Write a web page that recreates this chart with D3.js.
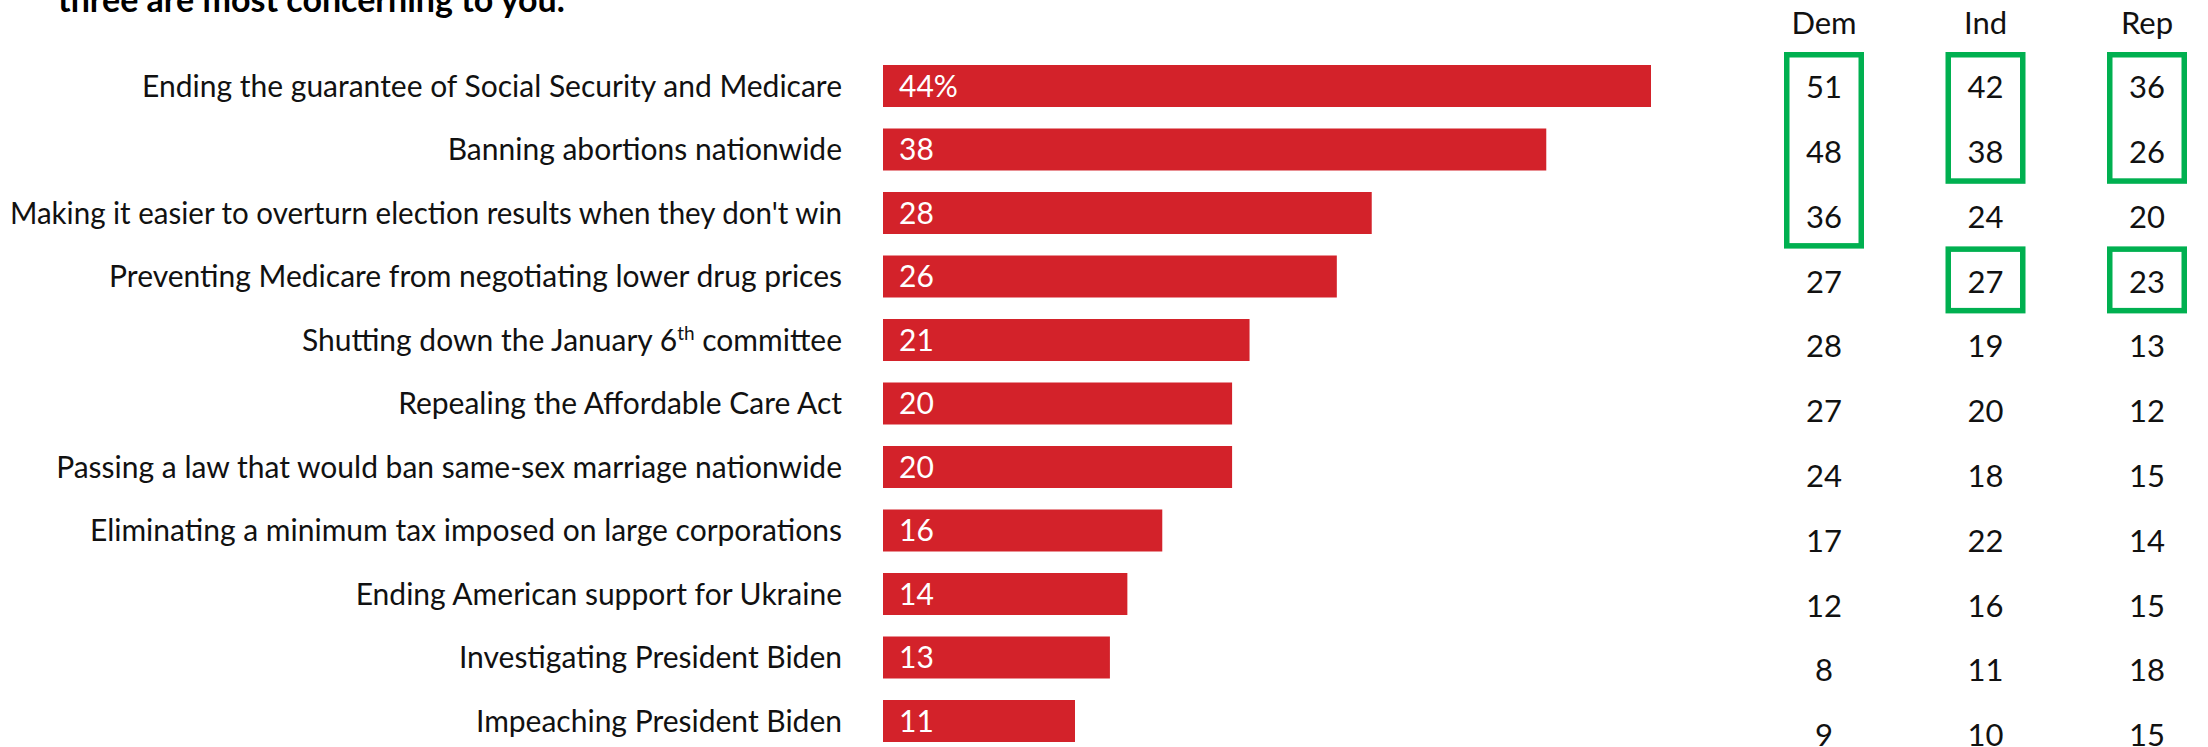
<!DOCTYPE html>
<html>
<head>
<meta charset="utf-8">
<script src="https://cdn.jsdelivr.net/npm/d3@7"></script>
<style>
  body { margin: 0; background: #fff; }
  text { font-family: Lato, "Open Sans", sans-serif; }
</style>
</head>
<body>
<script>
const TITLE = "three are most concerning to you.";

const ITEMS = [
  "Ending the guarantee of Social Security and Medicare",
  "Banning abortions nationwide",
  "Making it easier to overturn election results when they don't win",
  "Preventing Medicare from negotiating lower drug prices",
  "Shutting down the January 6th committee",
  "Repealing the Affordable Care Act",
  "Passing a law that would ban same-sex marriage nationwide",
  "Eliminating a minimum tax imposed on large corporations",
  "Ending American support for Ukraine",
  "Investigating President Biden",
  "Impeaching President Biden"
];

const TOTAL = [44, 38, 28, 26, 21, 20, 20, 16, 14, 13, 11];

const PARTIES = ["Dem", "Ind", "Rep"];
const DEM = [51, 48, 36, 27, 28, 27, 24, 17, 12, 8, 9];
const IND = [42, 38, 24, 27, 19, 20, 18, 22, 16, 11, 10];
const REP = [36, 26, 20, 23, 13, 12, 15, 14, 15, 18, 15];

// green boxes: party, first row, last row
const HIGHLIGHTS = [
  ["Dem", 0, 2],
  ["Ind", 0, 1],
  ["Ind", 3, 3],
  ["Rep", 0, 1],
  ["Rep", 3, 3]
];

const RED = "#d3222a";
const GREEN = "#00b050";

document.addEventListener('DOMContentLoaded', () => {
  drawChart();
});

function drawChart() {
  let width = 2208;
  let height = 747;
  let fontSize = 30;

  let svg = d3.select('body').append('svg')
              .attr('width', width)
              .attr('height', height);

  svg.append('text')
     .attr('x', 58)
     .attr('y', 12)
     .style('font-size', '34px')
     .style('font-weight', 'bold')
     .text(TITLE);

  let x = d3.scaleLinear()
            .domain([0, 44])
            .range([883, 1651]);

  let y = d3.scalePoint()
            .domain(ITEMS)
            .range([86, 721]);

  let barHeight = 42;
  let labelRight = 842;

  // left labels
  let labels = svg.append('g').selectAll('text')
                  .data(ITEMS)
                  .join('text')
                  .attr('x', labelRight)
                  .attr('y', d => y(d))
                  .attr('dy', '0.36em')
                  .attr('text-anchor', 'end')
                  .style('font-size', fontSize + 'px')
                  .style('fill', '#111');

  labels.each(function(d) {
    let t = d3.select(this);
    let m = d.match(/^(.*\d)(th)(.*)$/);
    if (m) {
      t.append('tspan').text(m[1]);
      t.append('tspan')
       .attr('dy', -11)
       .style('font-size', '19px')
       .text(m[2]);
      t.append('tspan').attr('dy', 11).text(m[3]);
    } else {
      t.text(d);
    }
    // keep long labels inside the left edge
    let w = this.getComputedTextLength();
    if (w > labelRight - 10) {
      t.attr('textLength', labelRight - 10).attr('lengthAdjust', 'spacingAndGlyphs');
    }
  });

  // bars
  svg.append('g').selectAll('rect')
     .data(ITEMS)
     .join('rect')
     .attr('x', x(0))
     .attr('y', d => y(d) - barHeight / 2)
     .attr('width', (d, i) => x(TOTAL[i]) - x(0))
     .attr('height', barHeight)
     .style('fill', RED);

  svg.append('g').selectAll('text')
     .data(ITEMS)
     .join('text')
     .attr('x', x(0) + 16)
     .attr('y', d => y(d))
     .attr('dy', '0.36em')
     .style('font-size', fontSize + 'px')
     .style('fill', '#fff')
     .text((d, i) => i === 0 ? TOTAL[i] + '%' : TOTAL[i]);

  // party table
  let col = d3.scalePoint()
              .domain(PARTIES)
              .range([1824, 2147]);

  let row = d3.scalePoint()
              .domain(d3.range(ITEMS.length))
              .range([87, 735]);

  let columns = { Dem: DEM, Ind: IND, Rep: REP };

  svg.append('g').selectAll('text')
     .data(PARTIES)
     .join('text')
     .attr('x', d => col(d))
     .attr('y', 34)
     .attr('text-anchor', 'middle')
     .style('font-size', '31px')
     .style('fill', '#111')
     .text(d => d);

  PARTIES.forEach(p => {
    svg.append('g').selectAll('text')
       .data(columns[p])
       .join('text')
       .attr('x', col(p))
       .attr('y', (d, i) => row(i))
       .attr('dy', '0.36em')
       .attr('text-anchor', 'middle')
       .style('font-size', '31px')
       .style('fill', '#111')
       .text(d => d);
  });

  let stroke = 5.5;
  svg.append('g').selectAll('rect')
     .data(HIGHLIGHTS)
     .join('rect')
     .attr('x', d => col(d[0]) - 40 + stroke / 2)
     .attr('width', 80 - stroke)
     .attr('y', d => row(d[1]) - 35 + stroke / 2)
     .attr('height', d => row(d[2]) - row(d[1]) + 67 - stroke)
     .style('fill', 'none')
     .style('stroke', GREEN)
     .style('stroke-width', stroke);
}
</script>
</body>
</html>
